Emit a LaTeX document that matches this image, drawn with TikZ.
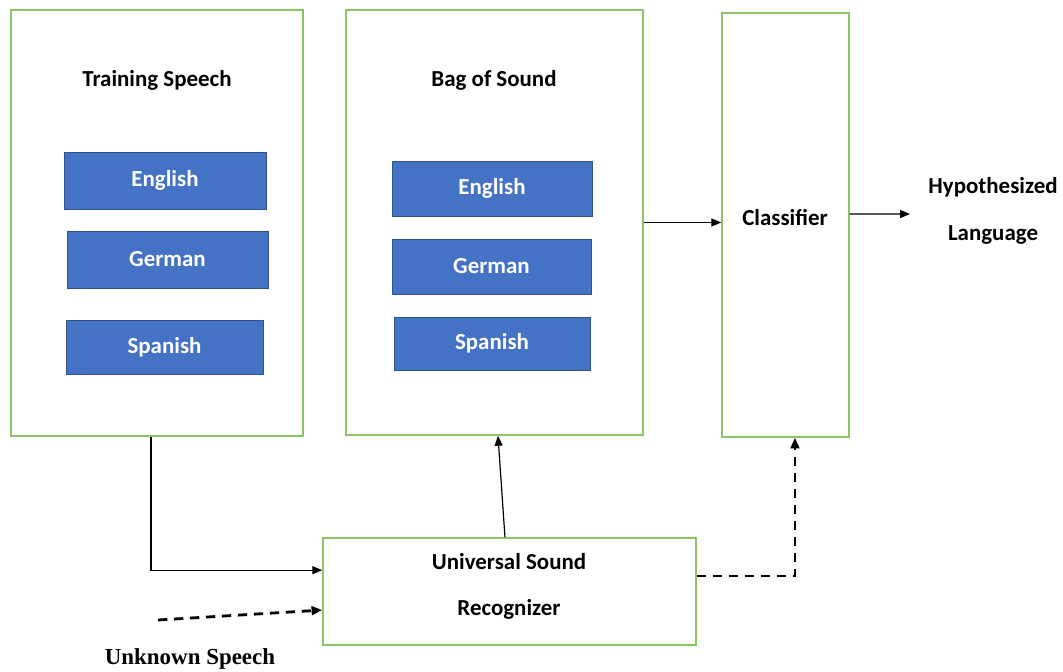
\documentclass[tikz,border=0pt]{standalone}
\usepackage{fontspec}
\setmainfont{Carlito}
\newfontfamily\timesfont{Liberation Serif}
\usetikzlibrary{arrows.meta}
\definecolor{boxgreen}{RGB}{140,198,100}
\definecolor{langblue}{RGB}{68,114,196}
\definecolor{langedge}{RGB}{47,82,143}
\tikzset{
  frame/.style={draw=boxgreen, line width=1.1pt, fill=white, inner sep=0pt},
  lang/.style={draw=langedge, line width=0.6pt, fill=langblue, text=white, inner sep=0pt, font=\fontsize{17.2}{20}\selectfont\bfseries},
  title/.style={font=\fontsize{17.2}{20}\selectfont\bfseries, inner sep=1pt},
  arr/.style={-{Triangle[length=7.5pt, width=6pt]}, line width=0.9pt},
  darr/.style={-{Triangle[length=8pt, width=6.5pt]}, line width=2.1pt, dash pattern=on 7pt off 5pt}
}
\begin{document}
\begin{tikzpicture}[x=0.75pt, y=-0.75pt]
\useasboundingbox (0,0) rectangle (1063,671);

% containers
\node[frame, minimum width=219pt, minimum height=319.5pt] (train) at (157,223) {};
\node[frame, minimum width=222.75pt, minimum height=318.75pt] (bag) at (494.5,222.5) {};
\node[frame, minimum width=95.25pt, minimum height=318pt] (cls) at (785.5,225) {};
\node[frame, minimum width=279.75pt, minimum height=80.25pt] (usr) at (509.5,591.5) {};

% titles
\node[title] (trainT) at (157,80) {Training Speech};
\node[title] (bagT) at (494,80) {Bag of Sound};
\node[title] (clsT) at (785,218) {Classifier};
\node[title] (usrA) at (509,562) {Universal Sound};
\node[title] (usrB) at (509,609) {Recognizer};
\node[title] (hypA) at (993,187) {Hypothesized};
\node[title] (hypB) at (993,235) {Language};
\node[title, font=\fontsize{17.2}{20}\selectfont\timesfont\bfseries] (unk) at (190,659) {Unknown Speech};

% languages
\node[lang, minimum width=151.5pt, minimum height=42.75pt] (trainEn) at (165,180.5) {English};
\node[lang, minimum width=150.75pt, minimum height=42.75pt] (trainDe) at (167.5,259.5) {German};
\node[lang, minimum width=147.75pt, minimum height=40.5pt] (trainEs) at (164.5,347) {Spanish};
\node[lang, minimum width=150pt, minimum height=41.25pt] (bagEn) at (492,188.5) {English};
\node[lang, minimum width=149.25pt, minimum height=41.25pt] (bagDe) at (491.5,266.5) {German};
\node[lang, minimum width=147pt, minimum height=39.75pt] (bagEs) at (492,343.5) {Spanish};

\coordinate (hypIn) at (910,214);
\coordinate (unkOut) at (158,620);

% edges
\draw[arr] (bag.east) -- (bag.east -| cls.west); % bag to classifier
\draw[arr] ([yshift=8.2pt]cls.east) -- (hypIn); % classifier to output
\draw[arr] ([xshift=-4.5pt]train.south) |- ([yshift=16pt]usr.west); % training to recognizer
\draw[darr] (unkOut) -- ([yshift=-13.9pt]usr.west); % unknown to recognizer
\draw[arr] ([xshift=-3.4pt]usr.north) -- ([xshift=2.6pt]bag.south); % recognizer to bag
\draw[darr] ([yshift=11.6pt]usr.east) -| ([xshift=7.1pt]cls.south); % recognizer to classifier
\end{tikzpicture}
\end{document}
